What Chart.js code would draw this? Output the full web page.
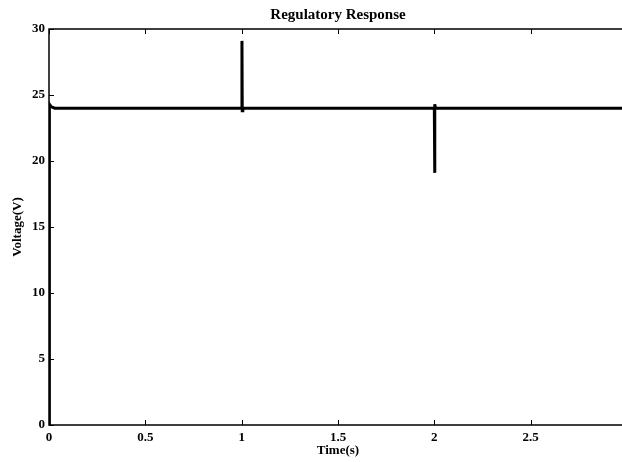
<!DOCTYPE html>
<html>
<head>
<meta charset="utf-8">
<script src="https://cdn.jsdelivr.net/npm/chart.js@4.4.0/dist/chart.umd.min.js"></script>
<style>
  html, body { margin: 0; padding: 0; background: #fff; overflow: hidden; }
  #wrap { width: 640px; height: 462px; }
</style>
</head>
<body>
<div id="wrap"><canvas id="chart"></canvas></div>
<script>
// time (s) and voltage (V)
const timeValues = [0, 0.002, 0.012, 0.03, 1.0, 1.0015, 1.003, 1.006, 2.0, 2.0015, 2.003, 2.006, 3.0];
const voltageValues = [0, 24.3, 24.1, 24, 24, 29.1, 23.8, 24, 24, 19.1, 24.3, 24, 24];
const xTicks = [0, 0.5, 1, 1.5, 2, 2.5, 3];
const yTicks = [0, 5, 10, 15, 20, 25, 30];

const points = timeValues.map((t, i) => ({ x: t, y: voltageValues[i] }));
const serif = "'Liberation Serif', 'Times New Roman', serif";

// matlab style box with ticks pointing inwards
const boxPlugin = {
    id: "box",
    afterDraw(chart) {
        const ctx = chart.ctx;
        const area = chart.chartArea;
        const xs = chart.scales.x;
        const ys = chart.scales.y;
        ctx.save();
        ctx.strokeStyle = "#000";
        ctx.lineWidth = 1.5;
        ctx.strokeRect(area.left, area.top, area.right - area.left, area.bottom - area.top);
        ctx.lineWidth = 1;
        ctx.beginPath();
        xTicks.forEach(v => {
            const px = Math.round(xs.getPixelForValue(v)) + 0.5;
            ctx.moveTo(px, area.bottom);
            ctx.lineTo(px, area.bottom - 5);
            ctx.moveTo(px, area.top);
            ctx.lineTo(px, area.top + 5);
        });
        yTicks.forEach(v => {
            const py = Math.round(ys.getPixelForValue(v)) + 0.5;
            ctx.moveTo(area.left, py);
            ctx.lineTo(area.left + 5, py);
        });
        ctx.stroke();
        ctx.restore();
    }
};

new Chart(document.getElementById("chart"), {
    type: "line",
    data: {
        datasets: [{
            data: points,
            borderColor: "#000",
            borderWidth: 3,
            pointRadius: 0,
            tension: 0,
            fill: false
        }]
    },
    options: {
        responsive: true,
        maintainAspectRatio: false,
        animation: false,
        layout: { padding: { left: 0, right: 13, top: 0, bottom: 0 } },
        plugins: {
            legend: { display: false },
            tooltip: { enabled: false }
        },
        scales: {
            x: {
                type: "linear",
                min: 0,
                max: 3,
                afterBuildTicks: s => { s.ticks = xTicks.map(v => ({ value: v })); },
                grid: { display: false, drawTicks: false },
                border: { display: false },
                ticks: {
                    color: "#000",
                    padding: 5,
                    maxRotation: 0,
                    autoSkip: false,
                    font: { family: serif, size: 13, weight: "bold" },
                    callback: v => (v === 3 ? "" : String(v))
                },
                title: {
                    display: true,
                    text: "Time(s)",
                    color: "#000",
                    font: { family: serif, size: 13, weight: "bold" },
                    padding: { top: 0, bottom: 4 }
                },
                afterFit: s => { s.height = 37; }
            },
            // top axis only carries the title so it is centred over the plot
            top: {
                type: "linear",
                position: "top",
                min: 0,
                max: 3,
                grid: { display: false, drawTicks: false },
                border: { display: false },
                ticks: { display: false },
                title: {
                    display: true,
                    text: "Regulatory Response",
                    color: "#000",
                    font: { family: serif, size: 15, weight: "bold" },
                    padding: { top: 6, bottom: 0 }
                },
                afterFit: s => { s.height = 29; }
            },
            y: {
                min: 0,
                max: 30,
                afterBuildTicks: s => { s.ticks = yTicks.map(v => ({ value: v })); },
                grid: { display: false, drawTicks: false },
                border: { display: false },
                ticks: {
                    color: "#000",
                    padding: 4,
                    font: { family: serif, size: 13, weight: "bold" }
                },
                title: {
                    display: true,
                    text: "Voltage(V)",
                    color: "#000",
                    font: { family: serif, size: 13, weight: "bold" },
                    padding: { top: 10, bottom: 0 }
                },
                afterFit: s => { s.width = 49; }
            }
        }
    },
    plugins: [boxPlugin]
});
</script>
</body>
</html>
